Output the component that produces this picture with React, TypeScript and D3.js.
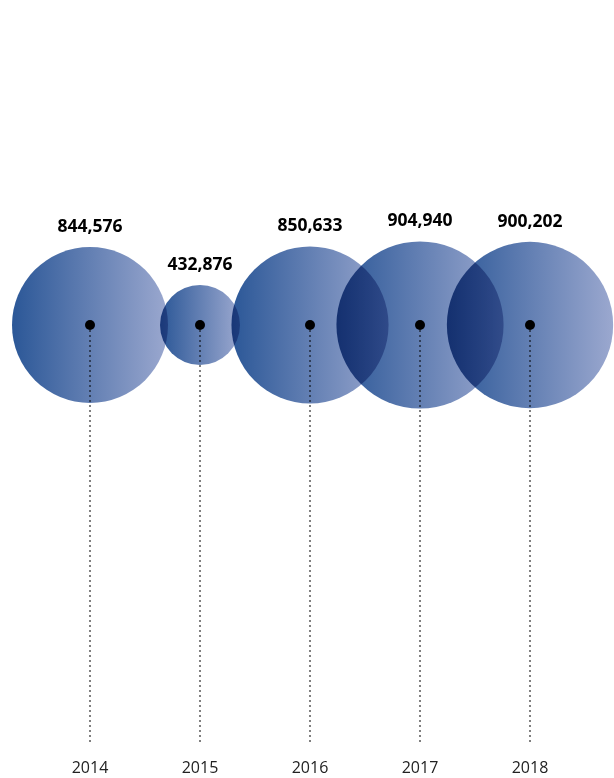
import React from "react";
import * as d3 from "d3";

const years = ["2014", "2015", "2016", "2017", "2018"];
const values = [844576, 432876, 850633, 904940, 900202];

const W = 614;
const H = 778;

export default function App() {
  const x = d3.scalePoint<string>().domain(years).range([90, 530]);
  const r = d3.scaleLinear().domain([0, 844576]).range([0, 78]);
  const cy = 325;
  const fmt = d3.format(",");
  const data = years.map((y, i) => ({ year: y, value: values[i] }));

  return (
    <svg
      width={W}
      height={H}
      style={{ position: "absolute", left: 0, top: 0, display: "block" }}
    >
      <defs>
        <linearGradient id="bubbleGrad" x1="0" x2="1" y1="0" y2="0">
          <stop offset="0%" stopColor="#2b5797" />
          <stop offset="100%" stopColor="#9ba8cf" />
        </linearGradient>
      </defs>
      <rect width={W} height={H} fill="#fff" />
      <g style={{ isolation: "isolate" }}>
        {data.map((d) => (
          <circle
            key={d.year}
            cx={x(d.year)}
            cy={cy}
            r={r(d.value)}
            fill="url(#bubbleGrad)"
            style={{ mixBlendMode: "multiply" }}
          />
        ))}
      </g>
      {data.map((d) => (
        <line
          key={"l" + d.year}
          x1={x(d.year)}
          x2={x(d.year)}
          y1={cy}
          y2={745}
          stroke="#000"
          strokeWidth={1}
          strokeDasharray="2,3"
        />
      ))}
      {data.map((d) => (
        <circle key={"d" + d.year} cx={x(d.year)} cy={cy} r={5} fill="#000" />
      ))}
      {data.map((d) => (
        <text
          key={"v" + d.year}
          x={x(d.year)}
          y={cy - r(d.value) - 15}
          textAnchor="middle"
          fontFamily="'Open Sans', 'Noto Sans', sans-serif"
          fontWeight={700}
          fontSize={17.5}
          fill="#000"
        >
          {fmt(d.value)}
        </text>
      ))}
      {data.map((d) => (
        <text
          key={"t" + d.year}
          x={x(d.year)}
          y={773}
          textAnchor="middle"
          fontFamily="'Open Sans', 'Noto Sans', sans-serif"
          fontSize={16}
          fill="#222"
        >
          {d.year}
        </text>
      ))}
    </svg>
  );
}
